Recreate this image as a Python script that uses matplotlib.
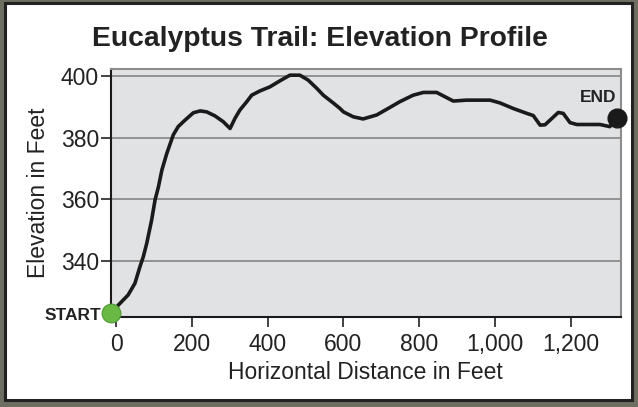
import matplotlib
matplotlib.use("Agg")
import matplotlib.pyplot as plt
from matplotlib.patches import Rectangle

distance = [-14, 6, 32, 50, 63, 72, 81, 94, 103, 112, 121, 134, 151, 164, 182,
            204, 222, 239, 261, 283, 301, 314, 327, 345, 358, 380, 406, 433, 459, 485,
            507, 530, 547, 573, 591, 600, 626, 652, 688, 718, 749, 784, 811, 846, 868,
            890, 925, 987, 1013, 1048, 1084, 1101, 1119, 1132, 1167, 1180, 1198, 1216,
            1277, 1303, 1321]
elevation = [323.0, 325.7, 329.0, 332.8, 338.1, 341.4, 345.7, 353.3, 359.8, 364.1, 369.5,
             374.9, 380.9, 383.6, 385.7, 388.1, 388.7, 388.4, 387.1, 385.2,
             383.0, 386.3, 389.0, 391.7, 393.8, 395.2, 396.5, 398.5, 400.3, 400.3, 398.7,
             396.0, 393.8, 391.3, 389.5, 388.4, 386.8, 386.1, 387.4, 389.5, 391.7, 393.8,
             394.7, 394.7, 393.3, 391.9, 392.2, 392.2, 391.3, 389.5, 387.9, 387.2,
             384.1, 384.2, 388.2, 387.9, 384.9, 384.3, 384.3, 383.6, 386.5]
x_ticks = [0, 200, 400, 600, 800, 1000, 1200]
x_tick_labels = ["0", "200", "400", "600", "800", "1,000", "1,200"]
y_ticks = [340, 360, 380, 400]
title = "Eucalyptus Trail: Elevation Profile"

plt.rcParams['font.family'] = ['Liberation Sans', 'DejaVu Sans']

fig = plt.figure(figsize=(6.38, 4.07), dpi=100)
fig.patch.set_facecolor('#6e6f62')
# white panel with dark border
fig.patches.append(Rectangle((4.5/638, (407-400)/407), (632-4.5)/638, (400-3)/407,
                             transform=fig.transFigure, facecolor='white',
                             edgecolor='#222222', linewidth=2.2, zorder=-5))

ax = fig.add_axes([110.7/638, (407-316.7)/407, 510/638, (316.7-69)/407])
ax.set_zorder(2)
ax.set_facecolor('#e1e2e4')
ax.set_xlim(-14, 1331.7)
ax.set_ylim(321.95, 402.3)

for y in y_ticks:
    ax.axhline(y, color='#8c8c8c', linewidth=1.3, zorder=1)

ax.plot(distance, elevation, color='#1a1a1a', linewidth=2.6, zorder=3,
        solid_capstyle='round', solid_joinstyle='round')

ax.plot([distance[0]], [elevation[0]], 'o', markersize=13.5, markerfacecolor='#69b944',
        markeredgecolor='#4f9a35', markeredgewidth=0.8, clip_on=False, zorder=5)
ax.plot([distance[-1]], [elevation[-1]], 'o', markersize=13.5, markerfacecolor='#1a1a1a',
        markeredgecolor='#1a1a1a', clip_on=False, zorder=5)

ax.annotate("START", xy=(distance[0], elevation[0]), xytext=(-7, -1.5),
            textcoords='offset points', ha='right', va='center',
            fontsize=12.5, fontweight='bold', color='#222222', annotation_clip=False)
ax.annotate("END", xy=(distance[-1], elevation[-1]), xytext=(-13, 14.5),
            textcoords='offset points', ha='center', va='center',
            fontsize=12.5, fontweight='bold', color='#222222', annotation_clip=False)

ax.set_xticks(x_ticks)
ax.set_xticklabels(x_tick_labels)
ax.set_yticks(y_ticks)
ax.tick_params(axis='both', labelsize=16.5, colors='#222222', length=7, width=1.2)
ax.tick_params(axis='x', pad=5)
ax.tick_params(axis='y', pad=1.5)

for s in ['left', 'bottom']:
    ax.spines[s].set_color('#1a1a1a')
    ax.spines[s].set_linewidth(1.5)
for s in ['top', 'right']:
    ax.spines[s].set_color('#8c8c8c')
    ax.spines[s].set_linewidth(1.5)

ax.set_xlabel("Horizontal Distance in Feet", fontsize=16.5, color='#222222', labelpad=3)
ax.set_ylabel("Elevation in Feet", fontsize=16.5, color='#222222', labelpad=8)
fig.text(0.502, (407-46)/407, title, ha='center', va='baseline', fontsize=20.3,
         fontweight='bold', color='#222222')

fig.savefig("out.png", dpi=100, facecolor=fig.get_facecolor())
